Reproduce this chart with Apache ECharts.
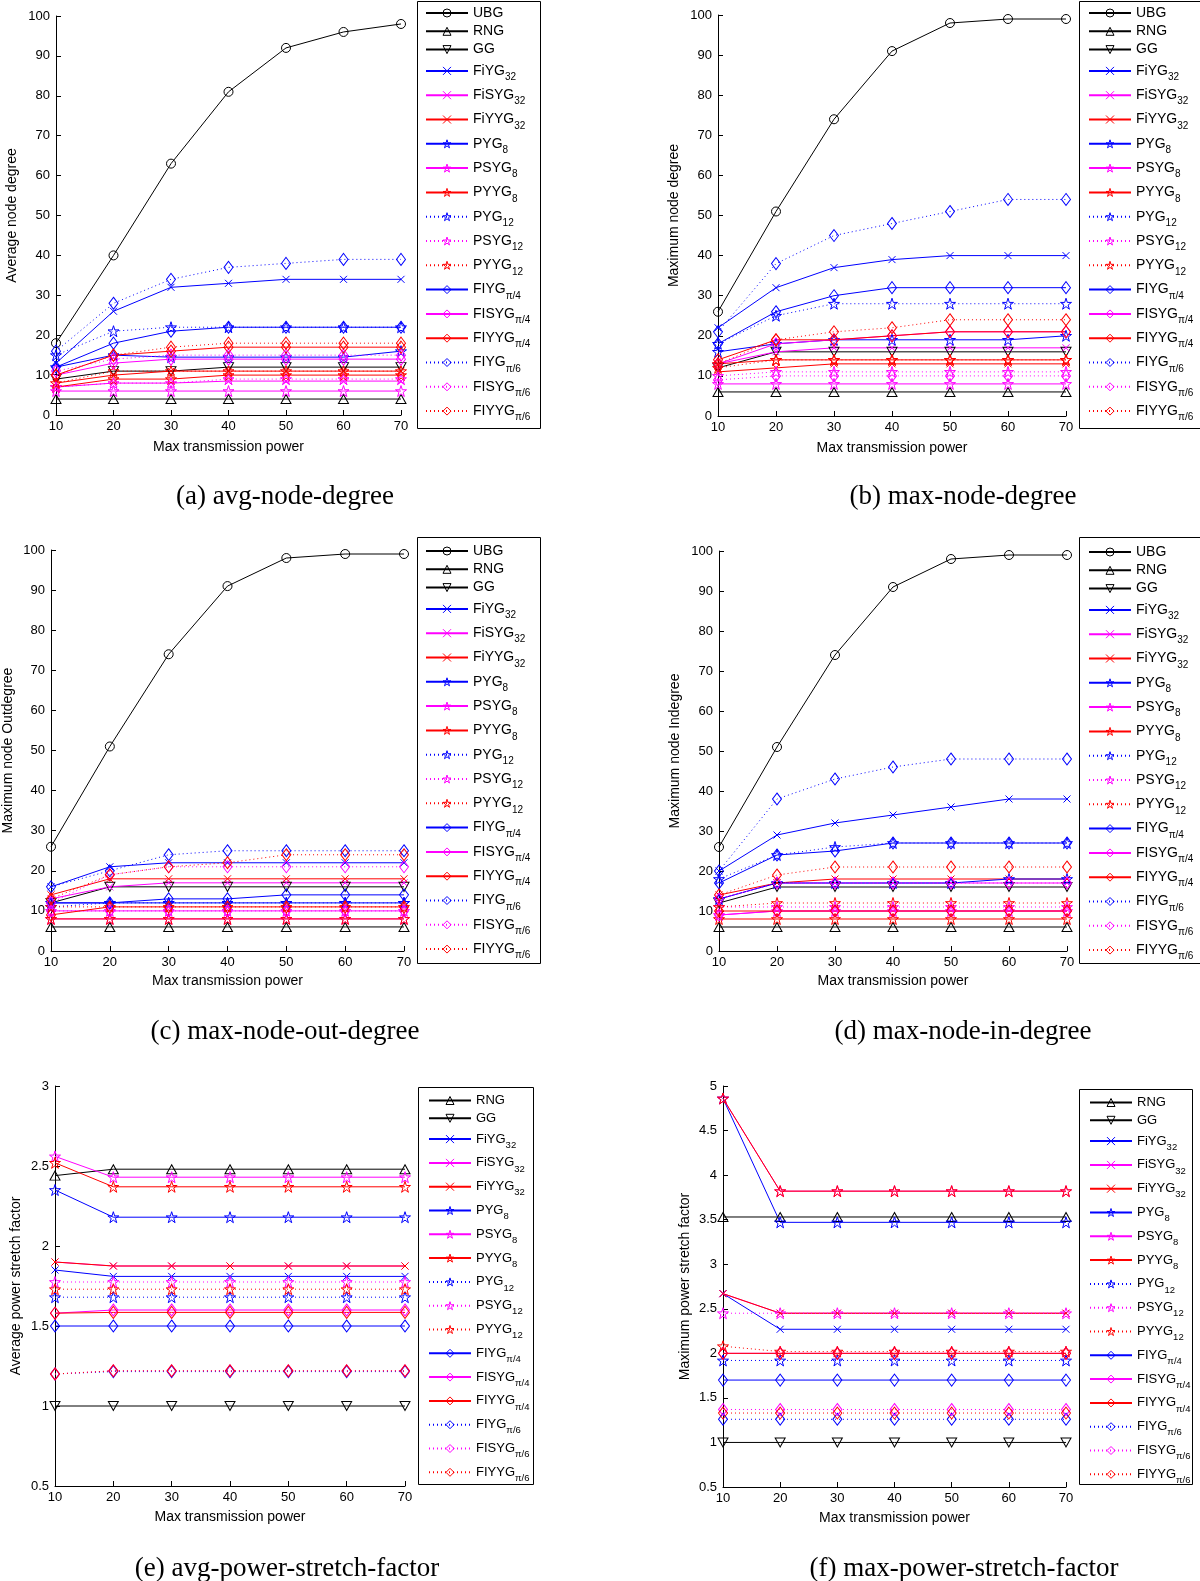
<!DOCTYPE html>
<html><head><meta charset="utf-8">
<script src="https://cdn.jsdelivr.net/npm/echarts@6/dist/echarts.min.js"></script>
<style>html,body{margin:0;padding:0;background:#fff}#c{width:1200px;height:1581px}</style>
</head><body><div id="c"></div>
<script>
// ---------------- data ----------------
const xValues = [10, 20, 30, 40, 50, 60, 70];
const seriesNames = ['UBG','RNG','GG','FiYG_32','FiSYG_32','FiYYG_32','PYG_8','PSYG_8','PYYG_8',
  'PYG_12','PSYG_12','PYYG_12','FIYG_π/4','FISYG_π/4','FIYYG_π/4','FIYG_π/6','FISYG_π/6','FIYYG_π/6'];

// (a) average node degree, rows follow seriesNames
const avgNodeDegree = [
  [18,40,63,81,92,96,98],
  [4,4,4,4,4,4,4],
  [9,11,11,12,12,12,12],
  [13,26,32,33,34,34,34],
  [7,8,8,8.5,8.5,8.5,8.5],
  [8,10,11,11,11,11,11],
  [12,15,14.5,14.5,14.5,14.5,16],
  [6,6,6,6,6,6,6],
  [7,9,9,10,10,10,10],
  [15,21,22,22,22,22,22],
  [7,8,8,9,9,9,9],
  [8,11,11,11,11,11,11],
  [12,18,21,22,22,22,22],
  [10,13,14,14,14,14,14],
  [10,15,16,17,17,17,17],
  [16,28,34,37,38,39,39],
  [11,14,15,15,15,15,15],
  [10,15,17,18,18,18,18]
];
// (b) maximum node degree
const maxNodeDegree = [
  [26,51,74,91,98,99,99],
  [6,6,6,6,6,6,6],
  [12,16,16,16,16,16,16],
  [22,32,37,39,40,40,40],
  [13,16,17,17,17,17,17],
  [11,12,13,13,13,13,13],
  [16,18,19,19,19,19,20],
  [8,8,8,8,8,8,8],
  [13,14,14,14,14,14,14],
  [18,25,28,28,28,28,28],
  [10,11,11,11,11,11,11],
  [12,14,14,14,14,14,14],
  [18,26,30,32,32,32,32],
  [13,18,19,20,21,21,21],
  [14,19,19,20,21,21,21],
  [21,38,45,48,51,54,54],
  [9,10,10,10,10,10,10],
  [13,19,21,22,24,24,24]
];
// (c) maximum node out-degree
const maxNodeOutDegree = [
  [26,51,74,91,98,99,99],
  [6,6,6,6,6,6,6],
  [12,16,16,16,16,16,16],
  [16,21,22,22,22,22,22],
  [13,16,17,17,17,17,17],
  [14,18,18,18,18,18,18],
  [12,12,12,12,12,12,12],
  [8,8,8,8,8,8,8],
  [8,8,8,8,8,8,8],
  [11,12,12,12,12,12,12],
  [10,10,10,10,10,10,10],
  [11,11,11,11,11,11,11],
  [12,12,13,13,14,14,14],
  [10,10,10,10,10,10,10],
  [9,11,11,11,11,11,11],
  [16,20,24,25,25,25,25],
  [12,19,21,21,21,21,21],
  [13,19,21,22,24,24,24]
];
// (d) maximum node in-degree
const maxNodeInDegree = [
  [26,51,74,91,98,99,99],
  [6,6,6,6,6,6,6],
  [12,16,16,16,16,16,16],
  [20,29,32,34,36,38,38],
  [13,17,17,17,17,17,17],
  [14,17,18,18,18,18,18],
  [13,17,17,17,17,18,18],
  [9,10,10,10,10,10,10],
  [8,8,8,8,8,8,8],
  [18,24,26,27,27,27,27],
  [11,11,11,11,11,11,11],
  [11,12,12,12,12,12,12],
  [17,24,25,27,27,27,27],
  [9,10,10,10,10,10,10],
  [10,10,10,10,10,10,10],
  [20,38,43,46,48,48,48],
  [13,17,17,17,17,17,17],
  [14,19,21,21,21,21,21]
];
// (e) average power stretch factor, rows follow seriesNames without UBG
const avgPowerStretch = [
  [2.44,2.48,2.48,2.48,2.48,2.48,2.48],
  [1,1,1,1,1,1,1],
  [1.85,1.81,1.81,1.81,1.81,1.81,1.81],
  [1.9,1.875,1.875,1.875,1.875,1.875,1.875],
  [1.9,1.875,1.875,1.875,1.875,1.875,1.875],
  [2.35,2.18,2.18,2.18,2.18,2.18,2.18],
  [2.56,2.43,2.43,2.43,2.43,2.43,2.43],
  [2.52,2.37,2.37,2.37,2.37,2.37,2.37],
  [1.68,1.68,1.68,1.68,1.68,1.68,1.68],
  [1.775,1.775,1.775,1.775,1.775,1.775,1.775],
  [1.73,1.73,1.73,1.73,1.73,1.73,1.73],
  [1.5,1.5,1.5,1.5,1.5,1.5,1.5],
  [1.58,1.6,1.6,1.6,1.6,1.6,1.6],
  [1.58,1.585,1.585,1.585,1.585,1.585,1.585],
  [1.2,1.215,1.215,1.215,1.215,1.215,1.215],
  [1.2,1.22,1.22,1.22,1.22,1.22,1.22],
  [1.2,1.22,1.22,1.22,1.22,1.22,1.22]
];
// (f) maximum power stretch factor
const maxPowerStretch = [
  [3.53,3.53,3.53,3.53,3.53,3.53,3.53],
  [1,1,1,1,1,1,1],
  [2.67,2.27,2.27,2.27,2.27,2.27,2.27],
  [2.67,2.45,2.45,2.45,2.45,2.45,2.45],
  [2.67,2.45,2.45,2.45,2.45,2.45,2.45],
  [4.86,3.47,3.47,3.47,3.47,3.47,3.47],
  [4.86,3.82,3.82,3.82,3.82,3.82,3.82],
  [4.86,3.82,3.82,3.82,3.82,3.82,3.82],
  [1.92,1.92,1.92,1.92,1.92,1.92,1.92],
  [2.45,2.45,2.45,2.45,2.45,2.45,2.45],
  [2.08,2.02,2.02,2.02,2.02,2.02,2.02],
  [1.7,1.7,1.7,1.7,1.7,1.7,1.7],
  [2.0,2.0,2.0,2.0,2.0,2.0,2.0],
  [2.0,2.0,2.0,2.0,2.0,2.0,2.0],
  [1.26,1.26,1.26,1.26,1.26,1.26,1.26],
  [1.37,1.37,1.37,1.37,1.37,1.37,1.37],
  [1.33,1.33,1.33,1.33,1.33,1.33,1.33]
];

// ---------------- styles ----------------
const BLUE = '#0000ff', MAG = '#ff00ff', RED = '#ff0000', BLK = '#000000';
const FONT = '"Liberation Sans", Arial, Helvetica, sans-serif';
function starPath() {
  let d = '';
  for (let k = 0; k < 10; k++) {
    const a = (-90 + 36 * k) * Math.PI / 180;
    const r = k % 2 ? 3.82 : 10;
    d += (k ? 'L' : 'M') + (10 + r * Math.cos(a)).toFixed(2) + ',' + (10 + r * Math.sin(a)).toFixed(2);
  }
  return 'path://' + d + 'Z';
}
const SYM = {
  circle: { symbol: 'circle', size: 9 },
  up: { symbol: 'path://M5,0L10,8.66L0,8.66Z', size: [10, 9] },
  down: { symbol: 'path://M0,0L10,0L5,8.66Z', size: [10, 9] },
  x: { symbol: 'path://M0,0L10,10M10,0L0,10', size: 7 },
  star: { symbol: starPath(), size: 11 },
  diamond: { symbol: 'diamond', size: [9, 12] }
};
const DOT = [1, 3];
const STYLE = {
  'UBG': [BLK, 'circle', 'solid'], 'RNG': [BLK, 'up', 'solid'], 'GG': [BLK, 'down', 'solid'],
  'FiYG_32': [BLUE, 'x', 'solid'], 'FiSYG_32': [MAG, 'x', 'solid'], 'FiYYG_32': [RED, 'x', 'solid'],
  'PYG_8': [BLUE, 'star', 'solid'], 'PSYG_8': [MAG, 'star', 'solid'], 'PYYG_8': [RED, 'star', 'solid'],
  'PYG_12': [BLUE, 'star', DOT], 'PSYG_12': [MAG, 'star', DOT], 'PYYG_12': [RED, 'star', DOT],
  'FIYG_π/4': [BLUE, 'diamond', 'solid'], 'FISYG_π/4': [MAG, 'diamond', 'solid'], 'FIYYG_π/4': [RED, 'diamond', 'solid'],
  'FIYG_π/6': [BLUE, 'diamond', DOT], 'FISYG_π/6': [MAG, 'diamond', DOT], 'FIYYG_π/6': [RED, 'diamond', DOT]
};

const PLOTS = [
  { rows: avgNodeDegree, names: seriesNames, grid: { left: 56, top: 16, width: 345, height: 399 },
    y: { min: 0, max: 100, interval: 10, name: 'Average node degree', gap: 37 }, xGap: 25,
    box: [417, 1, 123, 427], leg: [425, 4.5], big: true, cap: ['(a) avg-node-degree', 285, 497] },
  { rows: maxNodeDegree, names: seriesNames, grid: { left: 718, top: 15, width: 348, height: 401 },
    y: { min: 0, max: 100, interval: 10, name: 'Maximum node degree', gap: 37 }, xGap: 25,
    box: [1079, 1, 130, 427], leg: [1088, 4.5], big: true, cap: ['(b) max-node-degree', 963, 497] },
  { rows: maxNodeOutDegree, names: seriesNames, grid: { left: 51, top: 550, width: 353, height: 401 },
    y: { min: 0, max: 100, interval: 10, name: 'Maximum node Outdegree', gap: 36 }, xGap: 23,
    box: [417, 537, 123, 426], leg: [425, 542.5], big: true, cap: ['(c) max-node-out-degree', 285, 1032] },
  { rows: maxNodeInDegree, names: seriesNames, grid: { left: 719, top: 551, width: 348, height: 400 },
    y: { min: 0, max: 100, interval: 10, name: 'Maximum node Indegree', gap: 37 }, xGap: 23,
    box: [1079, 537, 130, 426], leg: [1088, 543.5], big: true, cap: ['(d) max-node-in-degree', 963, 1032] },
  { rows: avgPowerStretch, names: seriesNames.slice(1), grid: { left: 55, top: 1086, width: 350, height: 400 },
    y: { min: 0.5, max: 3, interval: 0.5, name: 'Average power stretch factor', gap: 32 }, xGap: 24,
    box: [418, 1087, 115, 397], leg: [428, 1092.5], big: false, cap: ['(e) avg-power-stretch-factor', 287, 1569] },
  { rows: maxPowerStretch, names: seriesNames.slice(1), grid: { left: 723, top: 1086, width: 343, height: 401 },
    y: { min: 0.5, max: 5, interval: 0.5, name: 'Maximum power stretch factor', gap: 31 }, xGap: 24,
    box: [1079, 1089, 113, 395], leg: [1089, 1094.5], big: false, cap: ['(f) max-power-stretch-factor', 964, 1569] }
];

function legendFormatter(name) {
  const i = name.indexOf('_');
  if (i < 0) return '{p|' + name + '}';
  return '{n|' + name.slice(0, i) + '}{s|' + name.slice(i + 1) + '}';
}

const grids = [], xAxes = [], yAxes = [], series = [], legends = [], graphics = [];
PLOTS.forEach((P, gi) => {
  grids.push(Object.assign({ containLabel: false }, P.grid));
  const axisCommon = {
    gridIndex: gi, type: 'value', nameLocation: 'middle',
    nameTextStyle: { color: '#000', fontSize: 14, fontFamily: FONT },
    axisLine: { onZero: false, lineStyle: { color: '#000', width: 1 } },
    axisTick: { inside: true, length: 5, lineStyle: { color: '#000', width: 1 } },
    axisLabel: { color: '#000', fontSize: 13, fontFamily: FONT },
    splitLine: { show: false }
  };
  xAxes.push(Object.assign({}, axisCommon, {
    min: 10, max: 70, interval: 10, name: 'Max transmission power', nameGap: P.xGap,
    axisLabel: Object.assign({}, axisCommon.axisLabel, { margin: 5 })
  }));
  yAxes.push(Object.assign({}, axisCommon, {
    min: P.y.min, max: P.y.max, interval: P.y.interval, name: P.y.name, nameGap: P.y.gap,
    axisLabel: Object.assign({}, axisCommon.axisLabel, { margin: 6 })
  }));
  P.names.forEach((nm, si) => {
    const st = STYLE[nm];
    const sym = SYM[st[1]];
    series.push({
      type: 'line', name: nm, xAxisIndex: gi, yAxisIndex: gi,
      data: xValues.map((x, k) => [x, P.rows[si][k]]),
      symbol: sym.symbol, symbolSize: sym.size, showAllSymbol: true,
      lineStyle: { color: st[0], width: 1, type: st[2] },
      itemStyle: { color: 'none', borderColor: st[0], borderWidth: 1 },
      emphasis: { disabled: true }, animation: false, clip: false
    });
  });
  const fs = P.big ? 14 : 13;
  const pp = 1.5;
  legends.push({
    orient: 'vertical', left: P.leg[0], top: P.leg[1], padding: 0,
    itemGap: P.big ? 1.3 : 1.8, itemWidth: 42, itemHeight: 10,
    selectedMode: false,
    data: P.names.map(nm => ({
      name: nm,
      itemStyle: { color: 'rgba(255,255,255,0)', borderColor: STYLE[nm][0], borderWidth: 1 }
    })),
    formatter: legendFormatter,
    itemStyle: { borderWidth: 1 },
    textStyle: {
      color: '#000', fontFamily: FONT, fontSize: fs,
      rich: {
        p: { fontFamily: FONT, fontSize: fs, lineHeight: fs + 2, padding: [pp, 0, pp, 0], color: '#000' },
        n: { fontFamily: FONT, fontSize: fs, lineHeight: fs + 2, color: '#000' },
        s: { fontFamily: FONT, fontSize: P.big ? 10 : 9.5, lineHeight: P.big ? 10 : 9,
             padding: [P.big ? 13 : 12, 0, 0, 0], color: '#000' }
      }
    }
  });
  graphics.push({
    type: 'rect', silent: true, z: -1,
    shape: { x: P.box[0] + 0.5, y: P.box[1] + 0.5, width: P.box[2], height: P.box[3] },
    style: { fill: 'none', stroke: '#000', lineWidth: 1 }
  });
  graphics.push({
    type: 'text', silent: true, x: P.cap[1], y: P.cap[2],
    style: { text: P.cap[0], fill: '#000', fontSize: 27, fontFamily: '"Liberation Serif", "Times New Roman", serif',
             align: 'center', verticalAlign: 'middle' }
  });
});

const chart = echarts.init(document.getElementById('c'), null, { renderer: 'canvas' });
chart.setOption({
  backgroundColor: '#fff', animation: false,
  grid: grids, xAxis: xAxes, yAxis: yAxes, series: series, legend: legends, graphic: graphics
});
</script></body></html>
